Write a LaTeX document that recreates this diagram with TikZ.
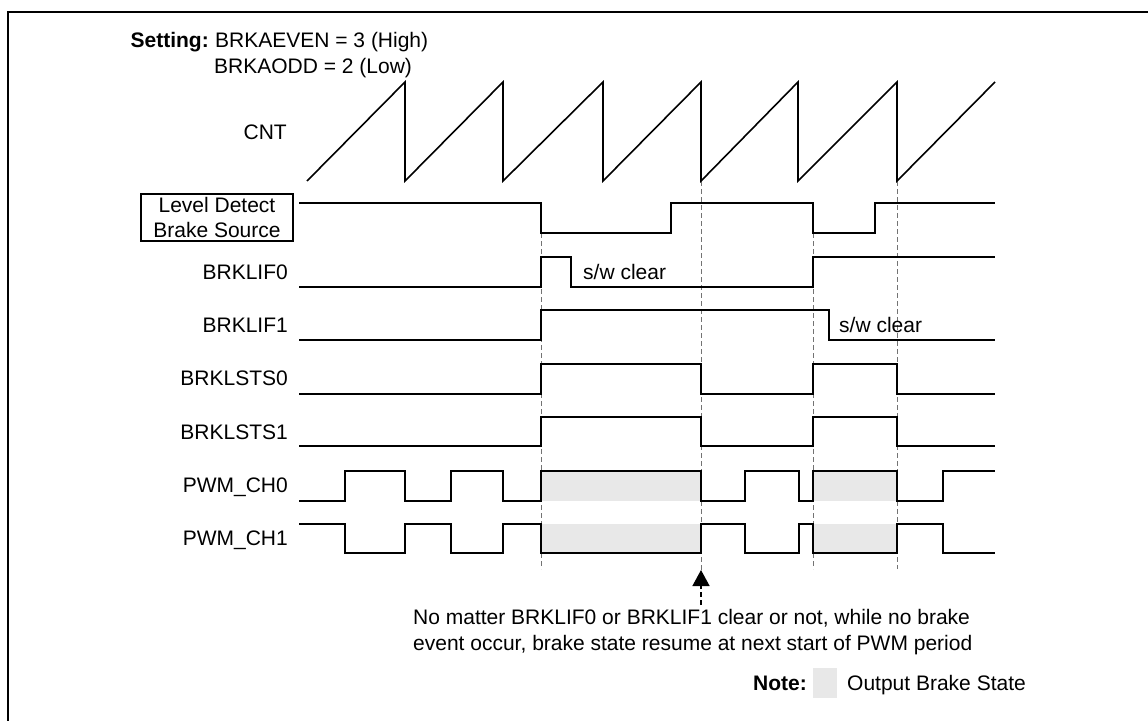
\documentclass[tikz,border=0pt]{standalone}
\usepackage{fontspec}
\setmainfont{Liberation Sans}
\usetikzlibrary{arrows.meta}
\begin{document}
\begin{tikzpicture}[x=1pt,y=-1pt,
  txt/.style={font=\fontsize{21}{25}\selectfont, inner sep=0pt},
  btxt/.style={font=\fontsize{21}{25}\selectfont\bfseries, inner sep=0pt},
  sig/.style={line width=1.6pt, line join=miter},
  guide/.style={black!55, line width=1pt, dash pattern=on 5pt off 3pt},
  shade/.style={fill=black!9, draw=none}]
\useasboundingbox (0,0) rectangle (1148,720);
\fill[white] (0,0) rectangle (1148,720);
\draw[line width=2.5pt] (8,722) -- (8,12) -- (1150,12);

% shaded brake states
\fill[shade] (541,471) rectangle (701,501);
\fill[shade] (813,471) rectangle (897,501);
\fill[shade] (541,524) rectangle (701,553);
\fill[shade] (813,524) rectangle (897,553);

% guide lines
\draw[guide] (541,233) -- (541,569);
\draw[guide] (701,181) -- (701,570);
\draw[guide] (813,233) -- (813,569);
\draw[guide] (897,181) -- (897,569);

% arrow
\coordinate (tip) at (701,570);
\coordinate (tail) at (701,605);
\draw[black, line width=1.4pt, dash pattern=on 5pt off 3pt, -{Triangle[length=16pt,width=17pt]}] (tail) -- (tip);

% setting text
\node[btxt, anchor=base east] (set) at (209,47) {Setting:};
\node[txt, anchor=base west] (set1) at (215,47) {BRKAEVEN = 3 (High)};
\node[txt, anchor=base west] (set2) at (214,73) {BRKAODD = 2 (Low)};

% labels
\node[txt, anchor=base east] (lcnt) at (287,139) {CNT};
\node[draw, line width=1.3pt, minimum width=152pt, minimum height=47pt, inner sep=0pt] (lvlbox) at (217,217.5) {};
\node[txt, anchor=base] (lvl1) at (217,212) {Level Detect};
\node[txt, anchor=base] (lvl2) at (217,237) {Brake Source};
\node[txt, anchor=base east] (lif0) at (288,279) {BRKLIF0};
\node[txt, anchor=base east] (lif1) at (288,332) {BRKLIF1};
\node[txt, anchor=base east] (lsts0) at (288,385) {BRKLSTS0};
\node[txt, anchor=base east] (lsts1) at (288,439) {BRKLSTS1};
\node[txt, anchor=base east] (lch0) at (288,492) {PWM\_CH0};
\node[txt, anchor=base east] (lch1) at (288,545) {PWM\_CH1};

% waveforms
\draw[sig] (307,181) -- (405,82) -- (405,181) -- (503,82) -- (503,181) -- (603,82) -- (603,181) -- (701,82) -- (701,181) -- (798,82) -- (798,181) -- (897,82) -- (897,181) -- (995,82);
\draw[sig] (299,203) -| (541,233) -| (671,203) -| (813,233) -| (875,203) -- (995,203);
\draw[sig] (299,287) -| (541,257) -| (571,287) -| (813,257) -- (995,257);
\draw[sig] (299,340) -| (541,310) -| (829,340) -- (995,340);
\draw[sig] (299,394) -| (541,364) -| (701,394) -| (813,364) -| (897,394) -- (995,394);
\draw[sig] (299,446) -| (541,417) -| (701,446) -| (813,417) -| (897,446) -- (995,446);
\draw[sig] (299,501) -| (345,471) -| (405,501) -| (451,471) -| (503,501) -| (541,471) -| (701,501) -| (745,471) -| (799,501) -| (813,471) -| (897,501) -| (943,471) -- (995,471);
\draw[sig] (299,524) -| (345,553) -| (405,524) -| (451,553) -| (503,524) -| (541,553) -| (701,524) -| (745,553) -| (799,524) -| (813,553) -| (897,524) -| (943,553) -- (995,553);

% annotations
\node[txt, anchor=base west] (sw0) at (583,279) {s/w clear};
\node[txt, anchor=base west] (sw1) at (839,332) {s/w clear};
\node[txt, anchor=base west] (foot1) at (413,624) {No matter BRKLIF0 or BRKLIF1 clear or not, while no brake};
\node[txt, anchor=base west] (foot2) at (413,650) {event occur, brake state resume at next start of PWM period};

% note
\node[btxt, anchor=base west] (note) at (753,690) {Note:};
\node[shade, minimum width=24pt, minimum height=30pt, inner sep=0pt] (notebox) at (825,683) {};
\node[txt, anchor=base west] (notetxt) at (847,690) {Output Brake State};
\end{tikzpicture}
\end{document}
